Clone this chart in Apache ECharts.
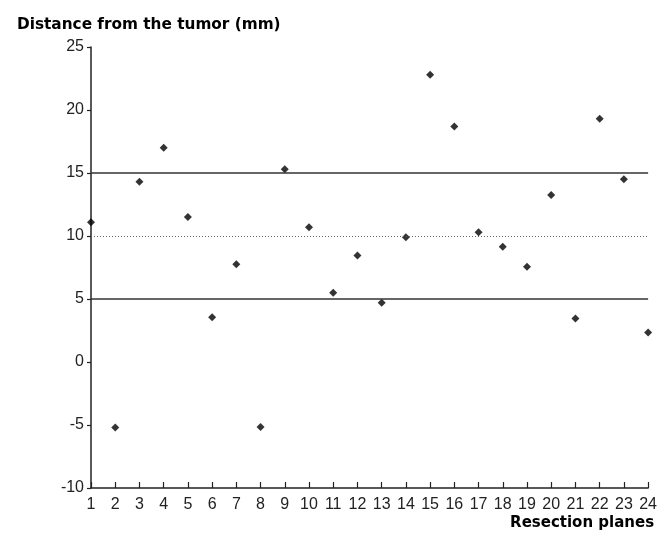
<!DOCTYPE html>
<html>
<head>
<meta charset="utf-8">
<script src="https://cdn.jsdelivr.net/npm/echarts@6/dist/echarts.min.js"></script>
<style>
  html, body { margin: 0; padding: 0; background: #fff; }
  #main { width: 660px; height: 542px; }
</style>
</head>
<body>
<div id="main"></div>
<script>
// resection plane numbers (x)
var planes = [1, 2, 3, 4, 5, 6, 7, 8, 9, 10, 11, 12, 13, 14, 15, 16, 17, 18, 19, 20, 21, 22, 23, 24];
// distance from the tumor, mm (y)
var distances = [11.1, -5.2, 14.3, 17.0, 11.5, 3.55, 7.75, -5.15, 15.3, 10.7, 5.5, 8.45,
  4.7, 9.9, 22.8, 18.7, 10.3, 9.15, 7.55, 13.25, 3.45, 19.3, 14.5, 2.35];
// horizontal reference lines
var solidLines = [15, 5];
var dottedLines = [10];

var chart = echarts.init(document.getElementById("main"));

var points = planes.map(function (p, i) {
  return [p, distances[i]];
});

var marks = [];
solidLines.forEach(function (v) {
  marks.push({ yAxis: v, lineStyle: { type: "solid", color: "#333", width: 1.5 } });
});
dottedLines.forEach(function (v) {
  marks.push({ yAxis: v, lineStyle: { type: [1, 2], color: "#666", width: 1 } });
});

var labelFont = {
  color: "#222",
  fontFamily: "Liberation Sans, Arial, sans-serif",
  fontSize: 16,
};

var boldFont = {
  fontFamily: "DejaVu Sans, sans-serif",
  fontWeight: "bold",
  fontSize: 15,
  color: "#000",
};

var option = {
  animation: false,
  backgroundColor: "#fff",
  title: {
    text: "Distance from the tumor (mm)",
    left: 12,
    top: 13,
    textStyle: Object.assign({}, boldFont, { fontSize: 15.3 }),
  },
  grid: {
    left: 91,
    right: 10,
    top: 47,
    bottom: 54,
    containLabel: false,
  },
  xAxis: {
    type: "value",
    min: 1,
    max: 24,
    interval: 1,
    name: "Resection planes",
    nameLocation: "end",
    nameGap: 6,
    nameTextStyle: Object.assign({}, boldFont, {
      align: "right",
      verticalAlign: "top",
      padding: [28, 0, 0, 0],
    }),
    axisLine: { show: true, onZero: false, lineStyle: { color: "#222", width: 1.5 } },
    axisTick: { show: true, inside: true, length: 6, lineStyle: { color: "#222", width: 1.2 } },
    axisLabel: Object.assign({ margin: 9 }, labelFont),
    splitLine: { show: false },
  },
  yAxis: {
    type: "value",
    min: -10,
    max: 25,
    interval: 5,
    axisLine: { show: true, onZero: false, lineStyle: { color: "#222", width: 1.5 } },
    axisTick: { show: true, inside: false, length: 4, lineStyle: { color: "#222", width: 1.2 } },
    axisLabel: Object.assign({ margin: 7 }, labelFont),
    splitLine: { show: false },
  },
  series: [
    {
      type: "scatter",
      data: points,
      symbol: "diamond",
      symbolSize: 8,
      itemStyle: { color: "#000" },
      markLine: {
        silent: true,
        symbol: ["none", "none"],
        label: { show: false },
        data: marks,
      },
      z: 3,
    },
  ],
};

chart.setOption(option);
</script>
</body>
</html>
